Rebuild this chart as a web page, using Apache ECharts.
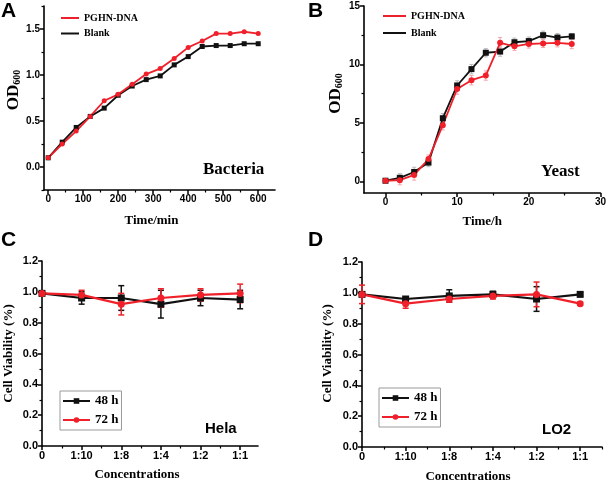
<!DOCTYPE html>
<html><head><meta charset="utf-8">
<script src="https://cdn.jsdelivr.net/npm/echarts@6/dist/echarts.min.js"></script>
<style>html,body{margin:0;padding:0;background:#fff}#c{width:609px;height:485px}</style>
</head><body><div id="c"></div>
<script>
// ---- Panel A: Bacteria ----
const aTime = [0,40,80,120,160,200,240,280,320,360,400,440,480,520,560,600];
const aPGHN = [0.10,0.25,0.39,0.55,0.72,0.79,0.90,1.01,1.07,1.18,1.30,1.37,1.45,1.45,1.47,1.45];
const aBlank = [0.10,0.27,0.43,0.55,0.64,0.78,0.88,0.95,0.99,1.11,1.20,1.31,1.32,1.32,1.34,1.34];
const aXTicks = [0,100,200,300,400,500,600];
const aXMinor = [50,150,250,350,450,550];
const aYTicks = [0,0.5,1.0,1.5];
const aYMinor = [-0.25,0.25,0.75,1.25,1.75];
// ---- Panel B: Yeast ----
const bTime = [0,2,4,6,8,10,12,14,16,18,20,22,24,26];
const bPGHN = [0.05,0.1,0.55,1.9,4.8,7.9,8.65,9.05,11.85,11.55,11.75,11.8,11.85,11.75];
const bPGHNErr = [0.15,0.4,0.45,0.35,0.4,0.45,0.4,0.4,0.45,0.35,0.35,0.35,0.35,0.4];
const bBlank = [0.05,0.3,0.8,1.6,5.4,8.2,9.6,11.0,11.1,11.9,12.0,12.5,12.3,12.4];
const bBlankErr = [0.15,0.35,0.4,0.35,0.4,0.4,0.4,0.35,0.4,0.35,0.35,0.35,0.35,0.25];
const bXTicks = [0,10,20,30];
const bXMinor = [5,15,25];
const bYTicks = [0,5,10,15];
const bYMinor = [2.5,7.5,12.5];
// ---- Panels C/D: cell viability ----
const concLabels = ['0','1:10','1:8','1:4','1:2','1:1'];
const concPos = [0,1,2,3,4,5];
const concMinor = [0.5,1.5,2.5,3.5,4.5,5.5];
const vYTicks = [0,0.2,0.4,0.6,0.8,1.0,1.2];
const vYMinor = [0.1,0.3,0.5,0.7,0.9,1.1];
const cHela48 = [0.99,0.96,0.96,0.92,0.96,0.95];
const cHela48Err = [0.01,0.04,0.08,0.09,0.05,0.06];
const cHela72 = [0.99,0.98,0.92,0.96,0.98,0.99];
const cHela72Err = [0.01,0.03,0.07,0.06,0.04,0.06];
const dLO248 = [0.99,0.96,0.98,0.99,0.96,0.99];
const dLO248Err = [0.01,0.01,0.04,0.02,0.08,0.01];
const dLO272 = [0.99,0.93,0.96,0.98,0.99,0.93];
const dLO272Err = [0.06,0.03,0.02,0.02,0.08,0.01];

const RED = '#f0202a', BLACK = '#111';
const SANS = 'Liberation Sans', SERIF = 'Liberation Serif';

const grids = [
  {left:44, top:6, width:231, height:184},
  {left:364, top:6, width:238, height:187},
  {left:42, top:261, width:216, height:185},
  {left:362, top:262, width:240, height:185}
];

const xAxes = [], yAxes = [];
function addAxes(g, xr, yr, xt, xm, yt, ym, xfmt, fs, xname, yname, xNameGap, yNameGap, xPad, yPad, yNameRich) {
  const common = {axisLine:{onZero:false, lineStyle:{color:'#000', width:1.6}}, splitLine:{show:false}};
  xAxes.push(Object.assign({}, common, {
    type:'value', gridIndex:g, position:'bottom', min:xr[0], max:xr[1],
    axisTick:{show:true, customValues:xt, length:4, lineStyle:{width:1.5, color:'#000'}},
    axisLabel:{customValues:xt, formatter:xfmt, fontFamily:SANS, fontWeight:'bold', fontSize:fs, color:'#000', margin:4},
    name:xname, nameLocation:'middle', nameGap:xNameGap,
    nameTextStyle:{fontFamily:SERIF, fontWeight:'bold', fontSize:13, color:'#000', padding:xPad}
  }));
  xAxes.push({type:'value', gridIndex:g, position:'bottom', min:xr[0], max:xr[1],
    axisLine:{show:false, onZero:false}, splitLine:{show:false}, axisLabel:{show:false},
    axisTick:{show:true, customValues:xm, length:2.5, lineStyle:{width:1.2, color:'#000'}}});
  yAxes.push(Object.assign({}, common, {
    type:'value', gridIndex:g, position:'left', min:yr[0], max:yr[1],
    axisTick:{show:true, customValues:yt, length:4, lineStyle:{width:1.5, color:'#000'}},
    axisLabel:{customValues:yt, formatter: yr[2], fontFamily:SANS, fontWeight:'bold', fontSize:fs, color:'#000', margin:4},
    name:yname, nameLocation:'middle', nameGap:yNameGap,
    nameTextStyle:Object.assign({fontFamily:SERIF, fontWeight:'bold', fontSize:13, color:'#000', padding:yPad}, yNameRich ? {rich:yNameRich} : {})
  }));
  yAxes.push({type:'value', gridIndex:g, position:'left', min:yr[0], max:yr[1],
    axisLine:{show:false, onZero:false}, splitLine:{show:false}, axisLabel:{show:false},
    axisTick:{show:true, customValues:ym, length:2.5, lineStyle:{width:1.2, color:'#000'}}});
}
const odRich = {a:{fontFamily:SERIF, fontWeight:'bold', fontSize:17, color:'#000', verticalAlign:'bottom', lineHeight:20},
                b:{fontFamily:SERIF, fontWeight:'bold', fontSize:10, color:'#000', verticalAlign:'bottom', lineHeight:14}};
const f1 = v => v.toFixed(1);
const fInt = v => String(v);
const fConc = v => concLabels[Math.round(v)];

addAxes(0, [-12,648], [-0.25,1.75,f1], aXTicks, aXMinor, aYTicks, aYMinor, fInt, 10, 'Time/min', '{a|OD}{b|600}', 24, 19, [0,16,0,0], [0,0,0,16], odRich);
addAxes(1, [-3,30], [-1,15,fInt], bXTicks, bXMinor, bYTicks, bYMinor, fInt, 10, 'Time/h', '{a|OD}{b|600}', 22, 20, [0,0,0,0], [0,0,0,12], odRich);
addAxes(2, [0,5.45], [0,1.2,f1], concPos, concMinor.filter(v=>v<5.45), vYTicks, vYMinor, fConc, 11, 'Concentrations', 'Cell Viability (%)', 22, 27, [0,26,0,0], [0,0,0,0]);
addAxes(3, [0,5.5], [0,1.2,f1], concPos, concMinor, vYTicks, vYMinor, fConc, 11, 'Concentrations', 'Cell Viability (%)', 23, 28, [0,28,0,0], [0,0,0,2]);

function pairs(xs, ys){ return xs.map((x,i)=>[x, ys[i]]); }
function errData(xs, ys, es){ return xs.map((x,i)=>[x, ys[i]-es[i], ys[i]+es[i]]); }
function errSeries(name, g, data, color, cap, width){
  return {type:'custom', name:name, xAxisIndex:2*g, yAxisIndex:2*g, data:data, z:3, silent:true,
    renderItem:function(params, api){
      const x = api.value(0);
      const p1 = api.coord([x, api.value(1)]), p2 = api.coord([x, api.value(2)]);
      const st = {stroke:color, lineWidth:width};
      return {type:'group', children:[
        {type:'line', shape:{x1:p1[0], y1:p1[1], x2:p2[0], y2:p2[1]}, style:st},
        {type:'line', shape:{x1:p1[0]-cap, y1:p1[1], x2:p1[0]+cap, y2:p1[1]}, style:st},
        {type:'line', shape:{x1:p2[0]-cap, y1:p2[1], x2:p2[0]+cap, y2:p2[1]}, style:st}
      ]};
    }};
}
function lineSeries(name, g, data, color, symbol, size, width){
  return {type:'line', name:name, xAxisIndex:2*g, yAxisIndex:2*g, data:data, color:color,
    symbol:symbol, symbolSize:size, showSymbol:true, lineStyle:{width:width, color:color},
    itemStyle:{color:color}, z:4, animation:false};
}

const series = [
  lineSeries('Blank', 0, pairs(aTime, aBlank), BLACK, 'rect', 5, 1.8),
  lineSeries('PGHN-DNA', 0, pairs(aTime, aPGHN), RED, 'circle', 5, 1.8),
  errSeries('bBlankErr', 1, errData(bTime, bBlank, bBlankErr), '#b8b8b8', 2, 1),
  errSeries('bPGHNErr', 1, errData(bTime, bPGHN, bPGHNErr), '#f5a5aa', 2, 1),
  lineSeries('Blank', 1, pairs(bTime, bBlank), BLACK, 'rect', 6, 1.8),
  lineSeries('PGHN-DNA', 1, pairs(bTime, bPGHN), RED, 'circle', 6, 1.8),
  errSeries('c48Err', 2, errData(concPos, cHela48, cHela48Err), BLACK, 3, 1.5),
  lineSeries('48 h', 2, pairs(concPos, cHela48), BLACK, 'rect', 7, 2.2),
  errSeries('c72Err', 2, errData(concPos, cHela72, cHela72Err), RED, 3, 1.5),
  lineSeries('72 h', 2, pairs(concPos, cHela72), RED, 'circle', 7, 2.2),
  errSeries('d48Err', 3, errData(concPos, dLO248, dLO248Err), BLACK, 3, 1.5),
  lineSeries('48 h', 3, pairs(concPos, dLO248), BLACK, 'rect', 7, 2.2),
  errSeries('d72Err', 3, errData(concPos, dLO272, dLO272Err), RED, 3, 1.5),
  lineSeries('72 h', 3, pairs(concPos, dLO272), RED, 'circle', 7, 2.2)
];

function lineLegend(left, top, w, gap){
  return {left:left, top:top, orient:'vertical', padding:0, itemGap:gap, itemWidth:w, itemHeight:2,
    selectedMode:false,
    data:[{name:'PGHN-DNA', icon:'rect'}, {name:'Blank', icon:'rect'}],
    textStyle:{fontFamily:SERIF, fontWeight:'bold', fontSize:10, color:'#000', lineHeight:12}};
}
function boxLegend(left, top){
  return {left:left, top:top, orient:'vertical', padding:[2,3,2,2], itemGap:3, itemWidth:27, itemHeight:7,
    selectedMode:false, borderColor:'#9a9a9a', borderWidth:1,
    data:['48 h','72 h'],
    textStyle:{fontFamily:SERIF, fontWeight:'bold', fontSize:13, color:'#000', lineHeight:16}};
}

function txt(x, y, s, font, size, align){
  return {type:'text', left:x, top:y, style:{text:s, fontFamily:font, fontWeight:'bold', fontSize:size, fill:'#000'}};
}

const chart = echarts.init(document.getElementById('c'), null, {renderer:'canvas'});
chart.setOption({
  animation:false,
  backgroundColor:'#fff',
  grid:grids,
  xAxis:xAxes,
  yAxis:yAxes,
  legend:[lineLegend(61, 12, 18, 3.5), lineLegend(383, 10, 23, 5), boxLegend(60, 391), boxLegend(379, 388)],
  series:series,
  graphic:[
    txt(1, 1, 'A', SANS, 21), txt(308, 1, 'B', SANS, 21),
    txt(1, 230, 'C', SANS, 21), txt(308, 230, 'D', SANS, 21),
    txt(203, 161, 'Bacteria', SERIF, 17), txt(541, 163, 'Yeast', SERIF, 17),
    txt(205, 421, 'Hela', SANS, 15), txt(542, 422, 'LO2', SANS, 15)
  ]
});
</script></body></html>
